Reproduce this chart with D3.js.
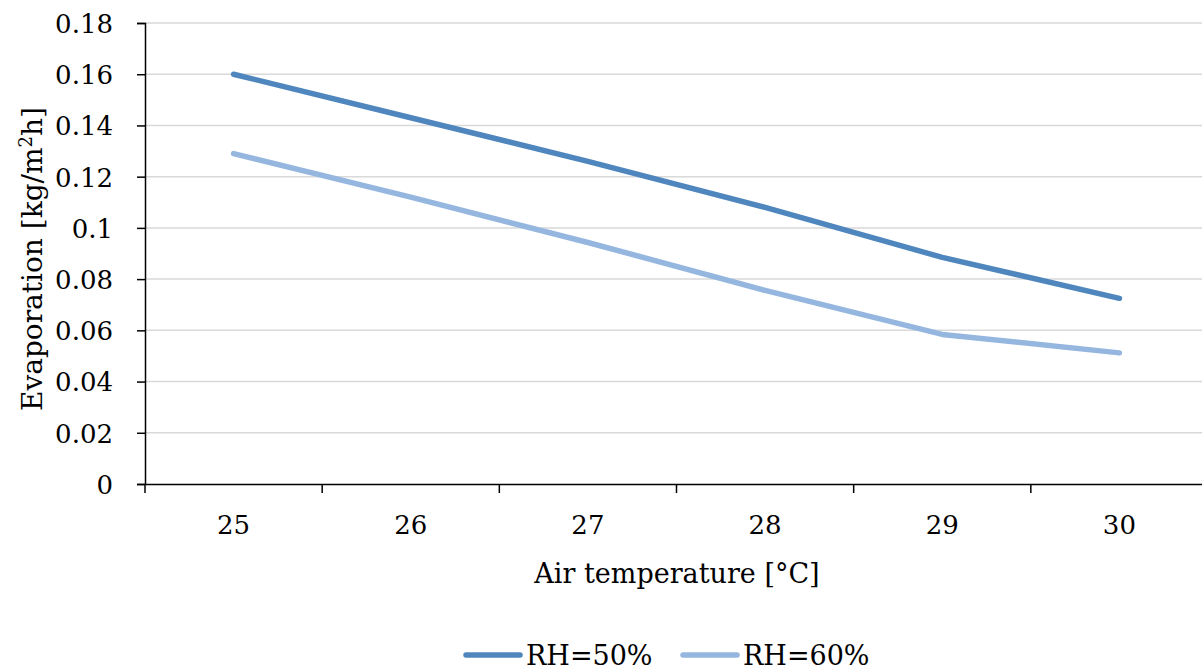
<!DOCTYPE html>
<html>
<head>
<meta charset="utf-8">
<script src="https://cdn.jsdelivr.net/npm/d3@7"></script>
<style>
  body { margin: 0; background: #fff; }
  text { font-family: "DejaVu Serif", serif; fill: #000; }
</style>
</head>
<body>
<div id="chart"></div>
<script>
const temps = [25, 26, 27, 28, 29, 30];
const rh50 = [0.160, 0.143, 0.126, 0.108, 0.0885, 0.0725];
const rh60 = [0.129, 0.112, 0.0943, 0.0756, 0.0584, 0.0512];
const yTicks = [0, 0.02, 0.04, 0.06, 0.08, 0.1, 0.12, 0.14, 0.16, 0.18];
const seriesNames = ["RH=50%", "RH=60%"];
const colors = ["#4f86bd", "#95b7df"];

const width = 1202, height = 671;
const mLeft = 145, mTop = 23, plotW = 1063, plotH = 461;

const svg = d3.select("#chart")
  .append("svg")
  .attr("width", width)
  .attr("height", height);

const x = d3.scaleBand()
  .domain(temps)
  .range([mLeft, mLeft + plotW]);

const y = d3.scaleLinear()
  .domain([0, 0.18])
  .range([mTop + plotH, mTop]);

// gridlines
svg.append("g")
  .selectAll("line")
  .data(yTicks.slice(1))
  .enter()
  .append("line")
  .attr("x1", mLeft)
  .attr("x2", mLeft + plotW)
  .attr("y1", d => y(d))
  .attr("y2", d => y(d))
  .attr("stroke", "#d9d9d9")
  .attr("stroke-width", 1.5);

const yAxis = svg.append("g")
  .attr("transform", `translate(${mLeft},0)`)
  .call(d3.axisLeft(y).tickValues(yTicks).tickSize(8).tickPadding(24)
    .tickFormat(d => String(+d.toFixed(2))));
yAxis.select(".domain").attr("stroke", "#000").attr("stroke-width", 1.5);
yAxis.selectAll(".tick line").attr("stroke", "#000").attr("stroke-width", 1.5);
yAxis.selectAll("text").style("font-size", "26px").style("font-family", "DejaVu Serif").attr("dy", "0.36em");

const xAxis = svg.append("g")
  .attr("transform", `translate(0,${mTop + plotH})`)
  .call(d3.axisBottom(x).tickSize(0).tickPadding(32));
xAxis.select(".domain").attr("stroke", "#000").attr("stroke-width", 1.5);
xAxis.selectAll("text").style("font-size", "26px").style("font-family", "DejaVu Serif");

// band boundary ticks
xAxis.selectAll("line.bt")
  .data(d3.range(temps.length + 1))
  .enter()
  .append("line")
  .attr("class", "bt")
  .attr("x1", i => mLeft + i * x.step())
  .attr("x2", i => mLeft + i * x.step())
  .attr("y1", 0)
  .attr("y2", 9)
  .attr("stroke", "#000")
  .attr("stroke-width", 1.5);

const line = d3.line()
  .x((d, i) => x(temps[i]) + x.bandwidth() / 2)
  .y(d => y(d));

[rh50, rh60].forEach((s, k) => {
  svg.append("path")
    .datum(s)
    .attr("fill", "none")
    .attr("stroke", colors[k])
    .attr("stroke-width", 5.5)
    .attr("stroke-linecap", "round")
    .attr("stroke-linejoin", "round")
    .attr("d", line);
});

// axis titles
svg.append("text")
  .attr("x", mLeft + 532)
  .attr("y", 583)
  .attr("text-anchor", "middle")
  .style("font-size", "27px")
  .text("Air temperature [°C]");

const yt = svg.append("text")
  .attr("transform", `translate(42,259) rotate(-90)`)
  .attr("text-anchor", "middle")
  .style("font-size", "28px");
yt.append("tspan").text("Evaporation [kg/m");
yt.append("tspan").attr("dy", -10).style("font-size", "18px").text("2");
yt.append("tspan").attr("dy", 10).text("h]");

// legend
const legX = [466, 683];
seriesNames.forEach((n, k) => {
  svg.append("line")
    .attr("x1", legX[k]).attr("x2", legX[k] + 54)
    .attr("y1", 655).attr("y2", 655)
    .attr("stroke", colors[k])
    .attr("stroke-width", 5.5)
    .attr("stroke-linecap", "round");
  svg.append("text")
    .attr("x", legX[k] + 60)
    .attr("y", 665)
    .style("font-size", "27px")
    .text(n);
});
</script>
</body>
</html>
